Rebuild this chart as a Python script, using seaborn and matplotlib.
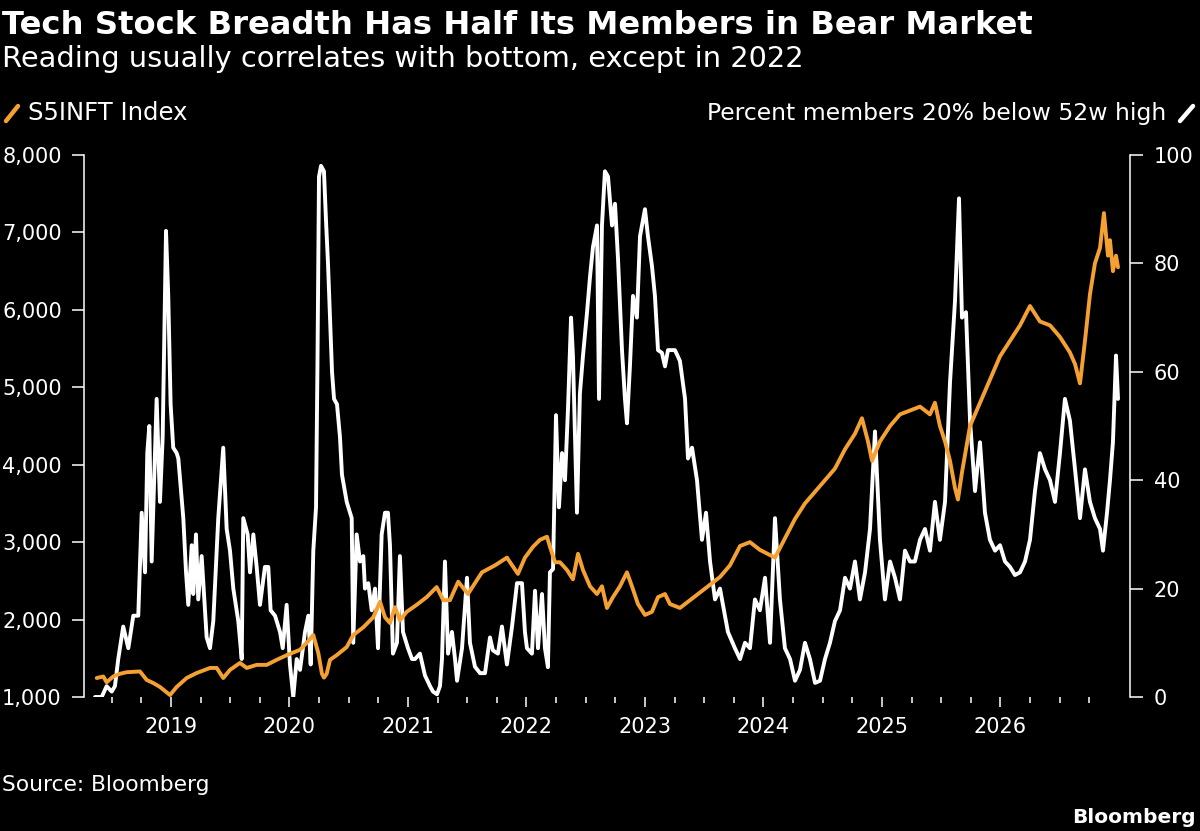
import matplotlib
matplotlib.use("Agg")
import matplotlib.pyplot as plt
from matplotlib.lines import Line2D
from matplotlib.ticker import FixedLocator, FuncFormatter
import seaborn as sns

# S5INFT Index level (left axis), decimal years
index_t = [
    2018.373, 2018.429, 2018.457, 2018.513, 2018.570, 2018.626, 2018.738, 2018.795,
    2018.851, 2018.907, 2018.992, 2019.048, 2019.132, 2019.217, 2019.329, 2019.386,
    2019.441, 2019.498, 2019.582, 2019.639, 2019.723, 2019.808, 2019.892, 2019.976,
    2020.089, 2020.145, 2020.201, 2020.243, 2020.274, 2020.291, 2020.314, 2020.342,
    2020.398, 2020.483, 2020.538, 2020.623, 2020.707, 2020.764, 2020.806, 2020.848,
    2020.890, 2020.932, 2020.989, 2021.073, 2021.158, 2021.242, 2021.298, 2021.354,
    2021.424, 2021.506, 2021.624, 2021.734, 2021.835, 2021.928, 2021.987, 2022.055,
    2022.114, 2022.173, 2022.198, 2022.241, 2022.283, 2022.342, 2022.392, 2022.435,
    2022.477, 2022.536, 2022.595, 2022.637, 2022.679, 2022.730, 2022.789, 2022.848,
    2022.890, 2022.941, 2023.000, 2023.059, 2023.110, 2023.169, 2023.211, 2023.295,
    2023.380, 2023.464, 2023.549, 2023.633, 2023.717, 2023.802, 2023.886, 2023.970,
    2024.097, 2024.181, 2024.266, 2024.350, 2024.435, 2024.519, 2024.603, 2024.688,
    2024.772, 2024.831, 2024.882, 2024.916, 2024.983, 2025.068, 2025.152, 2025.236,
    2025.321, 2025.405, 2025.447, 2025.489, 2025.532, 2025.574, 2025.616, 2025.641,
    2025.675, 2025.709, 2025.743, 2025.827, 2025.911, 2025.996, 2026.080, 2026.165,
    2026.249, 2026.333, 2026.418, 2026.502, 2026.586, 2026.629, 2026.671, 2026.713,
    2026.755, 2026.797, 2026.840, 2026.873, 2026.907, 2026.924, 2026.949, 2026.975,
    2026.992,
]
index_val = [
    1245, 1265, 1190, 1265, 1300, 1320, 1330, 1220,
    1180, 1130, 1025, 1130, 1245, 1310, 1375, 1375,
    1245, 1350, 1440, 1375, 1415, 1415, 1480, 1540,
    1610, 1700, 1800, 1570, 1300, 1250, 1300, 1480,
    1540, 1645, 1800, 1900, 2030, 2230, 2030, 1955,
    2160, 1990, 2100, 2190, 2290, 2420, 2250, 2250,
    2490, 2330, 2610, 2700, 2800, 2590, 2800, 2940,
    3030, 3070, 2940, 2740, 2740, 2640, 2520, 2850,
    2640, 2430, 2330, 2430, 2150, 2290, 2430, 2610,
    2430, 2200, 2060, 2100, 2290, 2330, 2200, 2150,
    2250, 2350, 2450, 2550, 2700, 2950, 3000, 2900,
    2800, 3050, 3300, 3500, 3650, 3800, 3950, 4200,
    4400, 4600, 4300, 4050, 4300, 4500, 4650, 4700,
    4750, 4650, 4800, 4500, 4300, 4050, 3700, 3550,
    3900, 4200, 4500, 4800, 5100, 5400, 5600, 5800,
    6050, 5850, 5800, 5650, 5450, 5300, 5050, 5600,
    6200, 6600, 6800, 7250, 6700, 6900, 6500, 6700,
    6550,
]

# Percent of members 20% below 52-week high (right axis)
breadth_t = [
    2018.359, 2018.373, 2018.415, 2018.457, 2018.500, 2018.527, 2018.555, 2018.597,
    2018.640, 2018.682, 2018.724, 2018.753, 2018.781, 2018.800, 2018.817, 2018.837,
    2018.857, 2018.879, 2018.907, 2018.930, 2018.958, 2018.977, 2018.997, 2019.019,
    2019.048, 2019.062, 2019.104, 2019.127, 2019.146, 2019.175, 2019.188, 2019.211,
    2019.230, 2019.259, 2019.301, 2019.329, 2019.357, 2019.399, 2019.441, 2019.470,
    2019.498, 2019.526, 2019.568, 2019.597, 2019.610, 2019.647, 2019.667, 2019.695,
    2019.723, 2019.751, 2019.793, 2019.821, 2019.841, 2019.878, 2019.920, 2019.943,
    2019.976, 2020.004, 2020.032, 2020.061, 2020.089, 2020.131, 2020.159, 2020.179,
    2020.201, 2020.224, 2020.236, 2020.249, 2020.266, 2020.291, 2020.308, 2020.325,
    2020.342, 2020.359, 2020.376, 2020.401, 2020.426, 2020.443, 2020.483, 2020.525,
    2020.538, 2020.567, 2020.595, 2020.623, 2020.637, 2020.665, 2020.694, 2020.722,
    2020.747, 2020.778, 2020.806, 2020.831, 2020.848, 2020.873, 2020.907, 2020.932,
    2020.958, 2021.000, 2021.034, 2021.059, 2021.101, 2021.143, 2021.186, 2021.211,
    2021.245, 2021.270, 2021.287, 2021.312, 2021.338, 2021.371, 2021.397, 2021.414,
    2021.456, 2021.498, 2021.523, 2021.565, 2021.608, 2021.650, 2021.692, 2021.717,
    2021.759, 2021.793, 2021.835, 2021.878, 2021.920, 2021.962, 2021.987, 2022.004,
    2022.046, 2022.072, 2022.097, 2022.131, 2022.156, 2022.181, 2022.198, 2022.224,
    2022.249, 2022.274, 2022.300, 2022.325, 2022.350, 2022.376, 2022.392, 2022.426,
    2022.451, 2022.477, 2022.511, 2022.536, 2022.561, 2022.595, 2022.612, 2022.637,
    2022.662, 2022.688, 2022.722, 2022.747, 2022.772, 2022.806, 2022.831, 2022.848,
    2022.873, 2022.899, 2022.932, 2022.958, 2023.000, 2023.025, 2023.059, 2023.084,
    2023.110, 2023.143, 2023.169, 2023.194, 2023.211, 2023.253, 2023.295, 2023.338,
    2023.363, 2023.397, 2023.439, 2023.481, 2023.515, 2023.549, 2023.591, 2023.633,
    2023.700, 2023.759, 2023.802, 2023.844, 2023.886, 2023.928, 2023.970, 2024.013,
    2024.055, 2024.097, 2024.139, 2024.181, 2024.224, 2024.266, 2024.308, 2024.350,
    2024.392, 2024.435, 2024.477, 2024.519, 2024.561, 2024.603, 2024.646, 2024.688,
    2024.730, 2024.772, 2024.814, 2024.857, 2024.899, 2024.941, 2024.983, 2025.025,
    2025.068, 2025.110, 2025.152, 2025.194, 2025.236, 2025.278, 2025.321, 2025.363,
    2025.405, 2025.447, 2025.489, 2025.532, 2025.574, 2025.616, 2025.650, 2025.675,
    2025.709, 2025.743, 2025.785, 2025.827, 2025.869, 2025.911, 2025.954, 2025.996,
    2026.038, 2026.080, 2026.122, 2026.165, 2026.207, 2026.249, 2026.291, 2026.333,
    2026.376, 2026.418, 2026.460, 2026.502, 2026.544, 2026.586, 2026.629, 2026.671,
    2026.713, 2026.755, 2026.797, 2026.840, 2026.865, 2026.899, 2026.924, 2026.949,
    2026.975, 2026.992,
]
breadth_pct = [
    0, 0, 0, 2, 1, 2, 7, 13,
    9, 15, 15, 34, 23, 45, 50, 25,
    39, 55, 36, 48, 86, 74, 54, 46,
    45, 44, 33, 23, 17, 28, 19, 30,
    18, 26, 11, 9, 14, 33, 46, 31,
    27, 20, 14, 7, 33, 30, 23, 30,
    24, 17, 24, 24, 16, 15, 12, 9,
    17, 6, 0, 7, 5, 12, 15, 6,
    27, 35, 61, 96, 98, 97, 88, 80,
    70, 60, 55, 54, 48, 41, 36, 33,
    10, 30, 25, 26, 20, 21, 16, 20,
    9, 30, 34, 34, 28, 8, 10, 26,
    12, 9, 7, 7, 8, 4, 2, 1,
    0.5, 2, 7, 25, 8, 12, 7, 3,
    9, 22, 10, 5.6, 4.4, 4.4, 11, 8.6,
    8, 13, 6, 13, 21, 21, 12, 9,
    8, 19.6, 9, 19, 9, 5.5, 23, 23.6,
    52, 35, 45, 40, 53, 70, 63, 34,
    56, 63, 71, 77.5, 83, 87, 55, 87,
    97, 96, 87, 91, 81, 64, 55, 50.5,
    61, 74, 70, 85, 90, 85, 79.5, 74,
    64, 63.5, 61, 64, 64, 64, 62, 55,
    44, 46, 40, 29, 34, 25, 18, 20,
    12, 9, 7, 10, 9, 18, 16, 22,
    10, 33, 18, 9, 7, 3, 5, 10,
    7, 2.6, 3, 7, 10, 14, 16, 22,
    20, 25, 18, 23, 31, 49, 29, 18,
    25, 22, 18, 27, 25, 25, 29, 31,
    27, 36, 29, 36, 58, 73, 92, 70,
    71, 51, 38, 47, 34, 29, 27, 28,
    25, 24, 22.5, 23, 25, 29, 38, 45,
    42, 40, 36, 45, 55, 51, 42, 33,
    42, 36, 33, 31, 27, 34, 40, 47,
    63, 55,
]

year_ticks = [2019, 2020, 2021, 2022, 2023, 2024, 2025, 2026]
left_ticks = [1000, 2000, 3000, 4000, 5000, 6000, 7000, 8000]
right_ticks = [0, 20, 40, 60, 80, 100]

ORANGE = "#F5A033"
W, H = 1200, 831

sns.set_theme(style="dark", rc={
    "figure.facecolor": "black",
    "axes.facecolor": "black",
    "text.color": "white",
    "xtick.color": "white",
    "ytick.color": "white",
    "axes.edgecolor": "white",
})
plt.rcParams["font.family"] = ["DejaVu Sans"]

fig = plt.figure(figsize=(W / 100, H / 100), dpi=100)
ax_b = fig.add_axes([84 / W, 1 - 697 / H, (1130 - 84) / W, (697 - 155) / H])
ax_i = ax_b.twinx()

# white breadth series underneath, orange index on top
sns.lineplot(x=breadth_t, y=breadth_pct, ax=ax_b, color="white", linewidth=2.8,
             estimator=None, sort=False)
sns.lineplot(x=index_t, y=index_val, ax=ax_i, color=ORANGE, linewidth=2.8,
             estimator=None, sort=False)

ax_b.set_xlim(2018.266, 2027.093)
ax_b.set_ylim(0, 100)
ax_i.set_ylim(1000, 8000)

for a in (ax_b, ax_i):
    a.grid(False)
    a.set_xlabel("")
    a.set_ylabel("")
    for s in a.spines.values():
        s.set_visible(False)

ax_b.yaxis.tick_right()
ax_i.yaxis.tick_left()
ax_b.spines["right"].set_visible(True)
ax_b.spines["right"].set_color("white")
ax_b.spines["right"].set_linewidth(1.1)
ax_i.spines["left"].set_visible(True)
ax_i.spines["left"].set_color("white")
ax_i.spines["left"].set_linewidth(1.1)

ax_b.set_yticks(right_ticks)
ax_b.set_yticklabels([str(v) for v in right_ticks])
ax_i.set_yticks(left_ticks)
ax_i.yaxis.set_major_formatter(FuncFormatter(lambda v, p: f"{int(v):,}"))

ax_b.tick_params(axis="y", right=True, left=False, direction="out", length=9,
                 width=1.1, color="white", labelsize=15, pad=8, labelcolor="white")
ax_i.tick_params(axis="y", left=True, right=False, direction="out", length=9,
                 width=1.1, color="white", labelsize=15, pad=7, labelcolor="white")

ax_b.xaxis.set_major_locator(FixedLocator(year_ticks))
quarters = [y + q / 4 for y in range(2018, 2027) for q in range(1, 4)]
ax_b.xaxis.set_minor_locator(FixedLocator(quarters))
ax_b.set_xticklabels([str(y) for y in year_ticks])
ax_b.tick_params(axis="x", which="major", bottom=True, direction="out", length=7.5,
                 width=1.1, color="white", labelsize=15, pad=7, labelcolor="white")
ax_b.tick_params(axis="x", which="minor", bottom=True, direction="out", length=4,
                 width=1.1, color="white")

# header text
fig.text(2 / W, 1 - 34 / H, "Tech Stock Breadth Has Half Its Members in Bear Market",
         fontsize=23.2, fontweight="bold", color="white", va="baseline", ha="left")
fig.text(2 / W, 1 - 67 / H, "Reading usually correlates with bottom, except in 2022",
         fontsize=20.8, color="white", va="baseline", ha="left")

# legend keys
fig.add_artist(Line2D([6 / W, 18 / W], [1 - 121 / H, 1 - 106 / H],
                      color=ORANGE, lw=3.2, transform=fig.transFigure))
fig.text(28 / W, 1 - 120 / H, "S5INFT Index", fontsize=17.5, color="white",
         va="baseline", ha="left")
fig.text(1166 / W, 1 - 120 / H, "Percent members 20% below 52w high", fontsize=16.9,
         color="white", va="baseline", ha="right")
fig.add_artist(Line2D([1180 / W, 1193 / W], [1 - 121 / H, 1 - 106 / H],
                      color="white", lw=3.2, transform=fig.transFigure))

# footer
fig.text(2 / W, 1 - 791 / H, "Source: Bloomberg", fontsize=15.7, color="white",
         va="baseline", ha="left")
fig.text(1196 / W, 1 - 823 / H, "Bloomberg", fontsize=14.5, fontweight="bold",
         color="white", va="baseline", ha="right")

fig.savefig("out.png", dpi=100, facecolor="black")
